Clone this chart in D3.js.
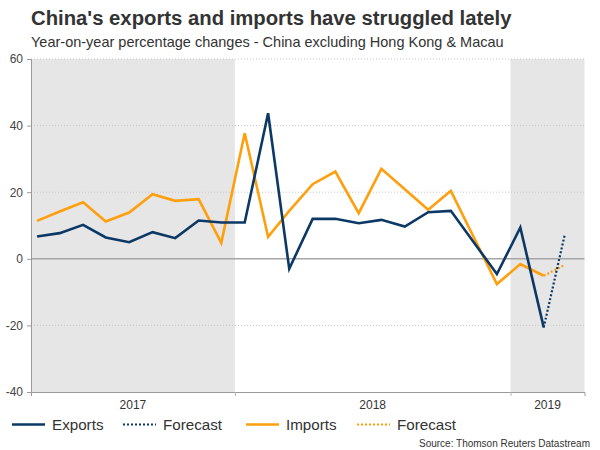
<!DOCTYPE html>
<html lang="en">
<head>
    <meta charset="UTF-8">
    <script src="https://d3js.org/d3.v7.min.js"></script>
    <title>China trade</title>
    <style>
        body{
            margin: 0;
            background-color: #fff;
        }
        svg text{
            font-family: "Liberation Sans", Arial, sans-serif;
        }
    </style>
</head>
<body>
    <div id="chart"></div>
</body>
<script>
// monthly points, Nov 2018 not in the series
const months = ["2017-04", "2017-05", "2017-06", "2017-07", "2017-08", "2017-09", "2017-10", "2017-11", "2017-12",
                "2018-01", "2018-02", "2018-03", "2018-04", "2018-05", "2018-06", "2018-07", "2018-08", "2018-09", "2018-10",
                "2018-12", "2019-01", "2019-02"];
const exportsYoY = [6.7, 7.7, 10.2, 6.4, 5.0, 8.0, 6.2, 11.5, 10.9,
                    10.9, 43.7, -3.0, 12.0, 12.0, 10.7, 11.7, 9.7, 14.0, 14.4,
                    -4.6, 9.4, -20.6];
const importsYoY = [11.4, 14.2, 17.0, 11.2, 13.9, 19.4, 17.4, 17.9, 4.8,
                    37.7, 6.6, 14.4, 22.4, 26.2, 13.7, 27.0, 20.9, 14.7, 20.4,
                    -7.6, -1.6, -5.1];

const forecastMonths = ["2019-02", "2019-03"];
const exportsForecast = [-20.6, 7.4];
const importsForecast = [-5.1, -1.8];

const yTicks = [-40, -20, 0, 20, 40, 60];
const years = [2017, 2018, 2019];
const shadedYears = [2017, 2019];

const colExports = "#0c3866";
const colImports = "#ff9f0d";

const svg = d3.select("#chart").append("svg").attr("width", 600).attr("height", 450);
const margin = { top: 59, bottom: 58, left: 31, right: 15.5 };
const width = 600 - margin.left - margin.right;
const height = 450 - margin.top - margin.bottom;

const parse = s => { const [y, m] = s.split("-").map(Number); return new Date(y, m - 1, 14); };

const xScale = d3.scaleTime().domain([new Date(2017, 3, 6), new Date(2019, 3, 9)]).range([0, width]);
const yScale = d3.scaleLinear().domain([-40, 60]).range([height, 0]);

const chart = svg.append("g").attr("transform", `translate(${margin.left},${margin.top})`);

// shaded years
const yearSpan = y => [Math.max(xScale(new Date(y, 0, 1)), 0), Math.min(xScale(new Date(y + 1, 0, 1)), width)];
chart.selectAll(".band").data(shadedYears).enter().append("rect")
    .attr("x", d => yearSpan(d)[0])
    .attr("width", d => yearSpan(d)[1] - yearSpan(d)[0])
    .attr("y", 0).attr("height", height)
    .attr("fill", "#e6e6e6");

// grid
chart.selectAll(".grid").data(yTicks.filter(d => d !== 0 && d !== -40)).enter().append("line")
    .attr("x1", 0).attr("x2", width)
    .attr("y1", d => yScale(d)).attr("y2", d => yScale(d))
    .attr("stroke", "#c8c8c8").attr("stroke-width", 1).attr("stroke-dasharray", "1,2");

chart.append("line").attr("x1", 0).attr("x2", width)
    .attr("y1", yScale(0)).attr("y2", yScale(0))
    .attr("stroke", "#a6a6a6").attr("stroke-width", 1.5);

// y axis
const yAxis = chart.append("g").call(d3.axisLeft(yScale).tickValues(yTicks).tickSize(4).tickPadding(4).tickFormat(d => String(d)));
yAxis.select(".domain").attr("stroke", "#9a9a9a");
yAxis.selectAll(".tick line").attr("stroke", "#9a9a9a");
yAxis.selectAll(".tick text").attr("fill", "#444").style("font-size", "12px");

// x axis: ticks at year boundaries, labels centred in each year
const xAxis = chart.append("g").attr("transform", `translate(0,${height})`)
    .call(d3.axisBottom(xScale).tickValues([new Date(2018, 0, 1), new Date(2019, 0, 1)]).tickSize(4).tickFormat(""));
xAxis.select(".domain").attr("stroke", "#9a9a9a");
xAxis.selectAll(".tick line").attr("stroke", "#b5b5b5");

chart.selectAll(".year").data(years).enter().append("text")
    .attr("x", d => (yearSpan(d)[0] + yearSpan(d)[1]) / 2)
    .attr("y", height + 17)
    .attr("text-anchor", "middle")
    .attr("fill", "#333").style("font-size", "12px")
    .text(d => d);

// lines
const line = d3.line().x(d => xScale(d.date)).y(d => yScale(d.value));
const series = (dates, vals) => dates.map((m, i) => ({ date: parse(m), value: vals[i] }));

const lines = [
    { data: series(forecastMonths, importsForecast), color: colImports, dash: "2,2" },
    { data: series(forecastMonths, exportsForecast), color: colExports, dash: "2,2" },
    { data: series(months, importsYoY), color: colImports, dash: null },
    { data: series(months, exportsYoY), color: colExports, dash: null }
];
lines.forEach(l => {
    chart.append("path").datum(l.data)
        .attr("fill", "none")
        .attr("stroke", l.color)
        .attr("stroke-width", l.dash ? 2.2 : 2.6)
        .attr("stroke-dasharray", l.dash)
        .attr("stroke-linejoin", "miter")
        .attr("d", line);
});

// titles
svg.append("text").attr("x", 31).attr("y", 25)
    .attr("fill", "#333").style("font-size", "20.3px").style("font-weight", "bold")
    .text("China's exports and imports have struggled lately");
svg.append("text").attr("x", 31).attr("y", 46.5)
    .attr("fill", "#333").style("font-size", "14.5px")
    .text("Year-on-year percentage changes - China excluding Hong Kong & Macau");

// legend
const legendItems = [
    { label: "Exports", color: colExports, dash: null, x: 12 },
    { label: "Forecast", color: colExports, dash: "2,2", x: 123 },
    { label: "Imports", color: colImports, dash: null, x: 246 },
    { label: "Forecast", color: colImports, dash: "2,2", x: 357 }
];
const legend = svg.append("g").attr("transform", "translate(0,424.5)");
legendItems.forEach(d => {
    legend.append("line").attr("x1", d.x).attr("x2", d.x + 33)
        .attr("stroke", d.color).attr("stroke-width", d.dash ? 2 : 2.6)
        .attr("stroke-dasharray", d.dash);
    legend.append("text").attr("x", d.x + 40).attr("y", 5.5)
        .attr("fill", "#333").style("font-size", "15.2px")
        .text(d.label);
});

svg.append("text").attr("x", 590).attr("y", 446.5).attr("text-anchor", "end")
    .attr("fill", "#333").style("font-size", "10px")
    .text("Source: Thomson Reuters Datastream");
</script>
</html>
